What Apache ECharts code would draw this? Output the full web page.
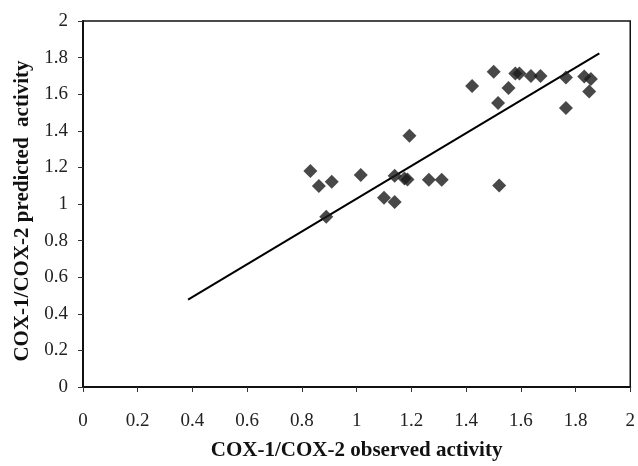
<!DOCTYPE html>
<html>
<head>
<meta charset="utf-8">
<script src="https://cdn.jsdelivr.net/npm/echarts@6/dist/echarts.min.js"></script>
<style>
  html, body { margin: 0; padding: 0; background: #fff; }
  #chart { width: 638px; height: 466px; }
</style>
</head>
<body>
<div id="chart"></div>
<script>
// observed vs predicted
var observed = [0.831, 0.862, 0.909, 0.889, 1.015, 1.100, 1.139, 1.139, 1.175, 1.186, 1.193, 1.264, 1.311, 1.521,
                1.422, 1.501, 1.555, 1.517, 1.580, 1.595, 1.637, 1.672, 1.765, 1.765, 1.832, 1.856, 1.850];
var predicted = [1.181, 1.098, 1.122, 0.930, 1.158, 1.034, 1.011, 1.155, 1.140, 1.134, 1.373, 1.133, 1.133, 1.101,
                 1.645, 1.722, 1.634, 1.552, 1.713, 1.713, 1.700, 1.700, 1.691, 1.525, 1.697, 1.683, 1.615];
// regression line end points
var lineX = [0.384, 1.887];
var lineY = [0.478, 1.823];

var points = observed.map(function (x, i) { return [x, predicted[i]]; });
var fit = lineX.map(function (x, i) { return [x, lineY[i]]; });

var font = 'Liberation Serif, Times New Roman, serif';
var chart = echarts.init(document.getElementById('chart'));

chart.setOption({
    animation: false,
    grid: {
        left: 83, right: 6, top: 21, bottom: 73,
        show: true, borderColor: '#111', borderWidth: 1.5
    },
    xAxis: {
        type: 'value', min: 0, max: 2, interval: 0.2,
        name: 'COX-1/COX-2 observed activity',
        nameLocation: 'middle', nameGap: 53,
        nameTextStyle: { fontFamily: font, fontWeight: 'bold', fontSize: 21, color: '#111' },
        axisLine: { lineStyle: { color: '#111', width: 2 } },
        axisTick: { show: true, length: 5, lineStyle: { color: '#333' } },
        axisLabel: { fontFamily: font, fontSize: 19, color: '#222', margin: 25 },
        splitLine: { show: false }
    },
    yAxis: {
        type: 'value', min: 0, max: 2, interval: 0.2,
        name: 'COX-1/COX-2 predicted  activity',
        nameLocation: 'middle', nameGap: 50, nameRotate: 90,
        nameTextStyle: { fontFamily: font, fontWeight: 'bold', fontSize: 21, color: '#111', padding: [0, 14, 0, 0] },
        axisLine: { lineStyle: { color: '#111', width: 2 } },
        axisTick: { show: true, length: 5, lineStyle: { color: '#333' } },
        axisLabel: { fontFamily: font, fontSize: 19, color: '#222', margin: 15 },
        splitLine: { show: false }
    },
    series: [
        {
            type: 'line',
            data: fit,
            symbol: 'none',
            lineStyle: { color: '#000', width: 2 },
            z: 1
        },
        {
            type: 'scatter',
            data: points,
            symbol: 'diamond',
            symbolSize: [14, 14],
            itemStyle: { color: '#1a1a1a' },
            z: 2
        }
    ]
});
</script>
</body>
</html>
